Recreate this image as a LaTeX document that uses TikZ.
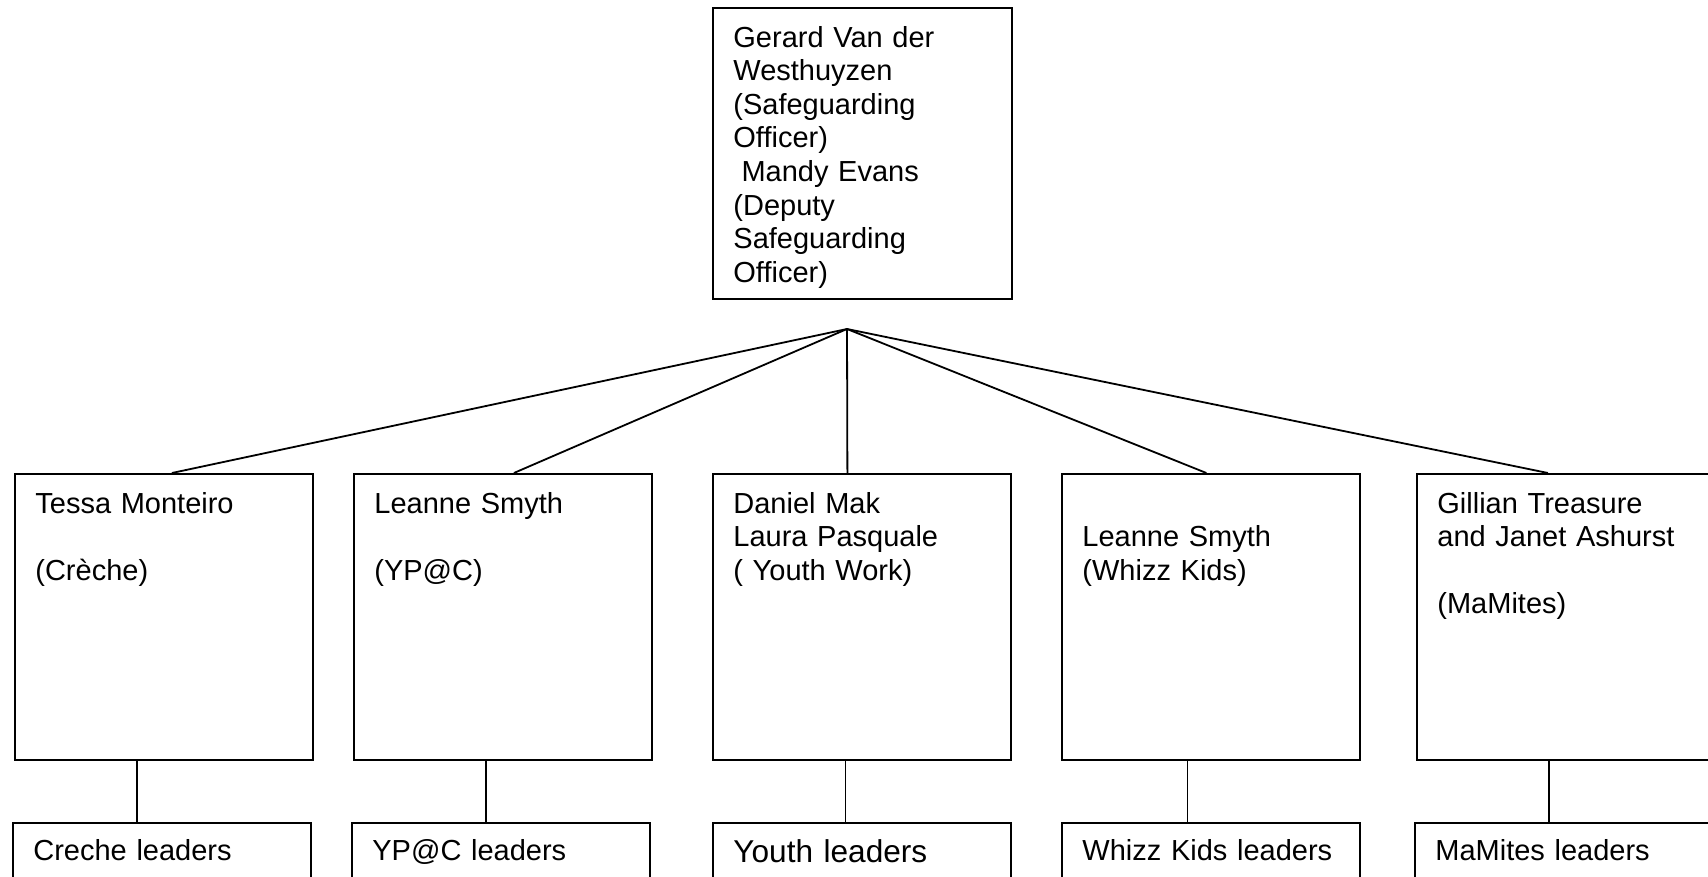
\documentclass[tikz,border=0pt]{standalone}
\usepackage{fontspec}
\setmainfont{Liberation Sans}
\usetikzlibrary{positioning}

\tikzset{
    box/.style={draw, line width=0.9pt, anchor=north west, inner sep=0pt,
        minimum width=149pt, minimum height=143pt},
    leaderbox/.style={box, minimum height=50pt},
    txt/.style={anchor=north west, inner sep=0pt, text width=140pt, align=left,
        font=\fontsize{14.5}{16.8}\selectfont, execute at begin node=\strut},
    link/.style={line width=0.9pt}
}

\begin{document}
\begin{tikzpicture}[x=0.5pt,y=-0.5pt]
        \useasboundingbox (0,0) rectangle (1708,877);
        \clip (0,0) rectangle (1708,877);
        \fill[white] (0,0) rectangle (1708,877);

        % safeguarding officers
        \node[box, minimum width=149.5pt, minimum height=145.5pt] (officer) at (712,7) {};
        \node[txt, below right=8.1pt and 10.5pt of officer.north west] (officertext)
            {Gerard Van der\\Westhuyzen\\(Safeguarding\\Officer)\\\hspace*{.28em}Mandy Evans\\(Deputy\\Safeguarding\\Officer)};
        \coordinate (apex) at (847,329);

        % groups
        \node[box] (m1) at (14,473) {};
        \node[box] (m2) at (353,473) {};
        \node[box] (m3) at (712,473) {};
        \node[box] (m4) at (1061,473) {};
        \node[box] (m5) at (1416,473) {};

        \node[txt, below right=8.1pt and 10.5pt of m1.north west] (m1text)
            {Tessa Monteiro\\[16.8pt](Crèche)};
        \node[txt, below right=8.1pt and 10.5pt of m2.north west] (m2text)
            {Leanne Smyth\\[16.8pt](YP@C)};
        \node[txt, below right=8.1pt and 10.5pt of m3.north west] (m3text)
            {Daniel Mak\\Laura Pasquale\\( Youth Work)};
        \node[txt, below right=8.1pt and 10.5pt of m4.north west] (m4text)
            {\\Leanne Smyth\\(Whizz Kids)};
        \node[txt, below right=8.1pt and 10.5pt of m5.north west] (m5text)
            {Gillian Treasure\\and Janet Ashurst\\[16.8pt](MaMites)};

        % leaders
        \node[leaderbox] (l1) at (12,822) {};
        \node[leaderbox] (l2) at (351,822) {};
        \node[leaderbox] (l3) at (712,822) {};
        \node[leaderbox] (l4) at (1061,822) {};
        \node[leaderbox] (l5) at (1414,822) {};

        \node[txt, below right=7.25pt and 10.5pt of l1.north west] (l1text) {Creche leaders};
        \node[txt, below right=7.25pt and 10.5pt of l2.north west] (l2text) {YP@C leaders};
        \node[txt, below right=7.25pt and 10.5pt of l3.north west,
            font=\fontsize{15.8}{18.2}\selectfont] (l3text) {Youth leaders};
        \node[txt, below right=7.25pt and 10.5pt of l4.north west] (l4text) {Whizz Kids leaders};
        \node[txt, below right=7.25pt and 10.5pt of l5.north west] (l5text) {MaMites leaders};

        % connectors
        \draw[link] (apex) -- ([xshift=4pt]m1.north);
        \draw[link] (apex) -- ([xshift=5.5pt]m2.north);
        \draw[link] (apex) -- ([xshift=-7.25pt]m3.north);
        \draw[link] (apex) -- ([xshift=-2.25pt]m4.north);
        \draw[link] (apex) -- ([xshift=-9pt]m5.north);

        \draw[link] ([xshift=-13.5pt]m1.south) -- ([xshift=-13.5pt]m1.south |- l1.north);
        \draw[link] ([xshift=-8.5pt]m2.south) -- ([xshift=-8.5pt]m2.south |- l2.north);
        \draw[link] ([xshift=-8.25pt]m3.south) -- ([xshift=-8.25pt]m3.south |- l3.north);
        \draw[link] ([xshift=-11.75pt]m4.south) -- ([xshift=-11.75pt]m4.south |- l4.north);
        \draw[link] ([xshift=-8.5pt]m5.south) -- ([xshift=-8.5pt]m5.south |- l5.north);
    \end{tikzpicture}
\end{document}
